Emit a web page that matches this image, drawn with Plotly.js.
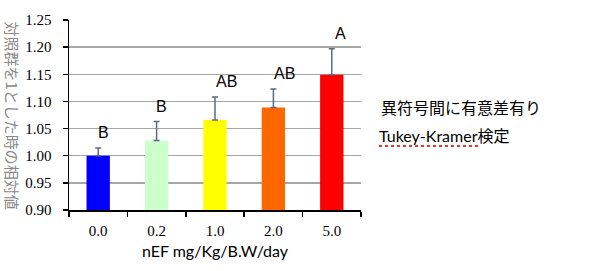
<!DOCTYPE html>
<html><head><meta charset="utf-8">
<script src="https://cdn.plot.ly/plotly-3.0.1.min.js"></script>
<style>html,body{margin:0;padding:0;background:#fff;}</style>
</head><body><div id="chart" style="width:599px;height:271px;"></div>
<script>
const categories = ["0.0", "0.2", "1.0", "2.0", "5.0"];
const values = [1.000, 1.028, 1.066, 1.089, 1.149];
const errors = [0.014, 0.035, 0.042, 0.034, 0.048];
const letters = ["B", "B", "AB", "AB", "A"];
const barColors = ["#0000FF", "#CCFFCC", "#FFFF00", "#FF6600", "#FF0000"];
const yTicks = [0.90, 0.95, 1.00, 1.05, 1.10, 1.15, 1.20, 1.25];
const yTitle = "対照群を1とした時の相対値";
const xTitle = "nEF mg/Kg/B.W/day";
const noteLine1 = "異符号間に有意差有り";
const noteLine2 = "Tukey-Kramer検定";

const trace = {
  type: "bar", x: categories, y: values, width: 0.4,
  marker: {color: barColors, line: {width: 0}},
  error_y: {type: "data", array: errors, arrayminus: errors.map(() => 0), symmetric: false,
            color: "#5f6b80", thickness: 1.5, width: 3},
  hoverinfo: "none"
};

const annotations = categories.map((c, i) => ({
  x: i, y: values[i] + errors[i], xref: "x", yref: "y",
  text: letters[i], showarrow: false, yanchor: "bottom", yshift: 5,
  xshift: [5, 5, 11, 11, 9][i],
  font: {family: "Liberation Sans, Arial, sans-serif", size: 16, color: "#000"}
}));
annotations.push({
  xref: "paper", yref: "paper", x: -69/292, y: 0.5, xanchor: "left",
  xshift: 0, text: yTitle, textangle: 90, showarrow: false,
  font: {family: "Noto Sans CJK JP", size: 15, color: "#8a8a8a"}
});
annotations.push({
  xref: "paper", yref: "paper", x: (379-69)/292, y: (271-107-61)/190, xanchor: "left", yanchor: "middle",
  text: noteLine1, showarrow: false,
  font: {family: "Noto Sans CJK JP", size: 16, color: "#000"}
});
annotations.push({
  xref: "paper", yref: "paper", x: (377-69)/292, y: (271-135-61)/190, xanchor: "left", yanchor: "middle",
  text: noteLine2, showarrow: false,
  font: {family: "Lato, Noto Sans CJK JP", size: 16, color: "#000"}
});

const layout = {
  width: 599, height: 271,
  margin: {l: 69, r: 238, t: 20, b: 61, pad: 0},
  paper_bgcolor: "#fff", plot_bgcolor: "#fff",
  showlegend: false,
  xaxis: {
    type: "category", range: [-0.5, 4.5], showline: true, linecolor: "#000", linewidth: 1.5,
    ticks: "outside", tickson: "boundaries", ticklen: 5, tickcolor: "#000", tickwidth: 1.5,
    showgrid: false, ticklabelstandoff: 6,
    tickfont: {family: "Liberation Serif, Times New Roman, serif", size: 15, color: "#000"},
    title: {text: xTitle, standoff: 8, font: {family: "Lato, sans-serif", size: 16, color: "#000"}}
  },
  yaxis: {
    range: [0.90, 1.25], tickvals: yTicks, ticktext: yTicks.map(v => v.toFixed(2)),
    showline: true, linecolor: "#000", linewidth: 1.5,
    ticks: "outside", ticklen: 5, tickcolor: "#000", tickwidth: 1.5,
    showgrid: true, gridcolor: "#a6a6a6", gridwidth: 1.5, zeroline: false,
    ticklabelstandoff: 8,
    tickfont: {family: "Liberation Serif, Times New Roman, serif", size: 15, color: "#000"}
  },
  annotations: annotations,
  shapes: [{
    type: "line", xref: "paper", yref: "paper",
    x0: (379-69)/292, x1: (478-69)/292, y0: (271-146-61)/190, y1: (271-146-61)/190,
    line: {color: "#e8332a", width: 2, dash: "dot"}
  }]
};

Plotly.newPlot("chart", [trace], layout, {staticPlot: true, displayModeBar: false});
</script></body></html>
